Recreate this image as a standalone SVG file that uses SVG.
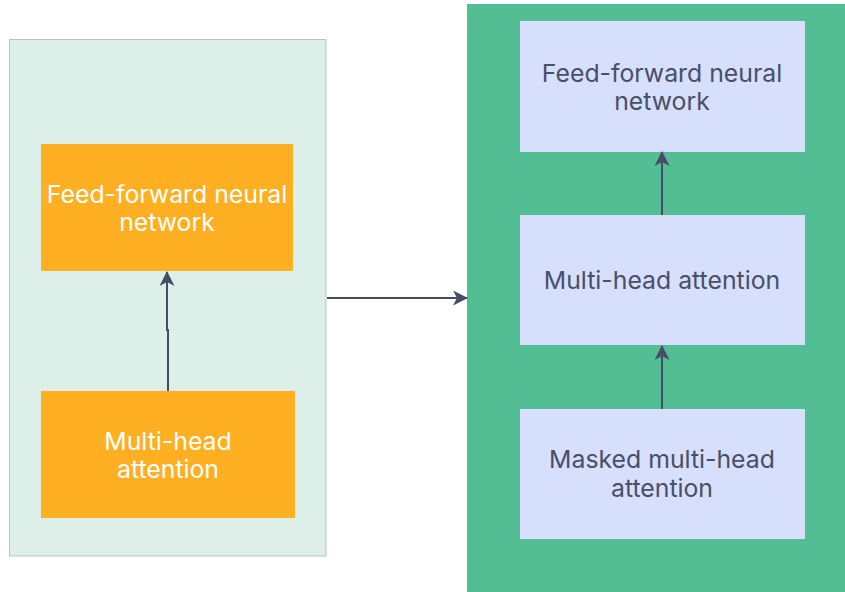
<svg xmlns="http://www.w3.org/2000/svg" width="845" height="592" viewBox="0 0 845 592">
  <style>
    .label { font-family: Inter, "Noto Sans", "Liberation Sans", sans-serif; font-size: 24.8px; text-anchor: middle; }
    .orange { fill: #feaf22; }
    .lilac { fill: #d6e0fd; }
    .white-text { fill: #ffffff; }
    .dark-text { fill: #4a4e68; }
    .edge { fill: none; stroke: #474b66; stroke-width: 2; }
  </style>
  <defs>
    <marker id="arrow" viewBox="0 0 15 15" refX="14" refY="7.5" markerWidth="15" markerHeight="15" markerUnits="userSpaceOnUse" orient="auto">
      <path d="M0,0 L15,7.5 L0,15 L4,7.5 Z" fill="#474b66"/>
    </marker>
  </defs>

  <rect width="845" height="592" fill="#ffffff"/>

  <!-- encoder block -->
  <g id="encoder">
    <rect x="9.5" y="39.5" width="316.5" height="516.5" fill="#dcf0e9" stroke="#b5c4bf" stroke-width="1"/>
  </g>
  <g id="enc-ffn">
    <rect class="orange" x="41" y="144" width="252" height="127"/>
    <text class="label white-text" x="167" y="203">Feed-forward neural</text>
    <text class="label white-text" x="167" y="231">network</text>
  </g>
  <g id="enc-mha">
    <rect class="orange" x="41" y="391" width="254" height="127"/>
    <text class="label white-text" x="168" y="450">Multi-head</text>
    <text class="label white-text" x="168" y="478">attention</text>
  </g>

  <!-- decoder block -->
  <g id="decoder">
    <rect x="467" y="4" width="378" height="588" fill="#53bd94"/>
  </g>
  <g id="dec-ffn">
    <rect class="lilac" x="520" y="21" width="285" height="131"/>
    <text class="label dark-text" x="662" y="82">Feed-forward neural</text>
    <text class="label dark-text" x="662" y="110">network</text>
  </g>
  <g id="dec-mha">
    <rect class="lilac" x="520" y="215" width="285" height="130"/>
    <text class="label dark-text" x="662" y="289">Multi-head attention</text>
  </g>
  <g id="dec-masked">
    <rect class="lilac" x="520" y="409" width="285" height="130"/>
    <text class="label dark-text" x="662" y="468">Masked multi-head</text>
    <text class="label dark-text" x="662" y="497">attention</text>
  </g>

  <!-- connectors -->
  <g id="connectors">
    <path class="edge" d="M168,391 V330 H167 V272" marker-end="url(#arrow)"/>
    <path class="edge" d="M327,298 H467" marker-end="url(#arrow)"/>
    <path class="edge" d="M662,409 V346" marker-end="url(#arrow)"/>
    <path class="edge" d="M662,215 V152" marker-end="url(#arrow)"/>
  </g>
</svg>
